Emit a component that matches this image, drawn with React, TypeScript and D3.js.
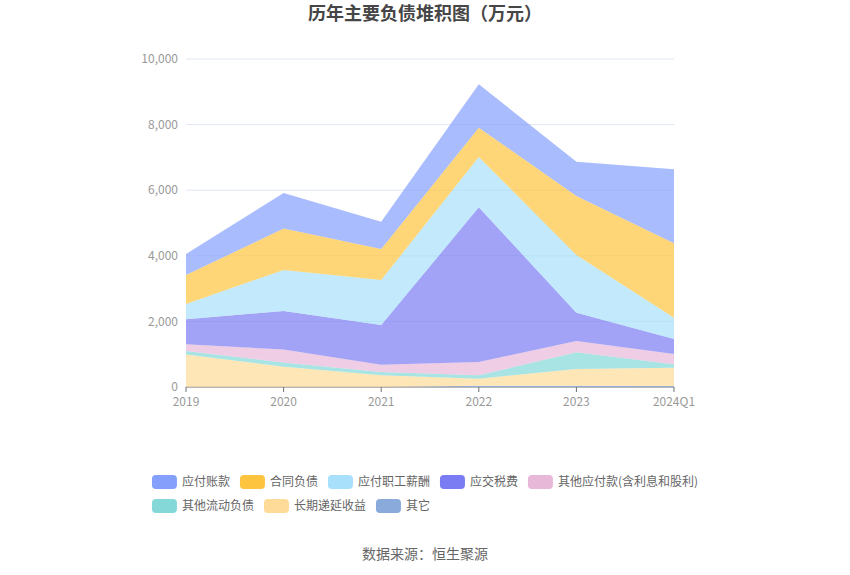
import React, { useMemo } from 'react';
import * as d3 from 'd3';

// 数据 (万元)
const years = ['2019', '2020', '2021', '2022', '2023', '2024Q1'];

const yingFuZhangKuan = [640, 1085, 833, 1322, 1047, 2256];
const heTongFuZhai = [885, 1263, 945, 891, 1799, 2266];
const zhiGongXinChou = [467, 1247, 1372, 1537, 1758, 651];
const yingJiaoShuiFei = [763, 1180, 1210, 4718, 864, 457];
const qiTaYingFu = [200, 395, 223, 400, 345, 314];
const qiTaLiuDong = [110, 130, 102, 106, 508, 102];
const diYanShouYi = [990, 615, 355, 214, 514, 560];
const qiTa = [0, 0, 0, 40, 35, 30];

// legend order
const seriesNames = ['应付账款', '合同负债', '应付职工薪酬', '应交税费', '其他应付款(含利息和股利)', '其他流动负债', '长期递延收益', '其它'];
const seriesValues = [yingFuZhangKuan, heTongFuZhai, zhiGongXinChou, yingJiaoShuiFei, qiTaYingFu, qiTaLiuDong, diYanShouYi, qiTa];
const seriesColors = ['#84a0fc', '#fdc43f', '#a8e0fb', '#7a7cf3', '#e8b8d8', '#85d8d8', '#ffdb99', '#8aaadb'];

const yTicks = [0, 2000, 4000, 6000, 8000, 10000];

const FONT = '"Noto Sans CJK SC", "Noto Sans", sans-serif';

const width = 850;
const height = 575;
const margin = { left: 186, right: 176, top: 59, bottom: 188 };

const App = () => {
  const x = d3.scalePoint<string>().domain(years).range([margin.left, width - margin.right]);
  const y = d3.scaleLinear().domain([0, 10000]).range([height - margin.bottom, margin.top]);

  const rows = years.map((yr, i) => {
    const r: Record<string, any> = { year: yr };
    seriesNames.forEach((n, k) => { r[n] = seriesValues[k][i]; });
    return r;
  });

  // bottom of the stack is the last legend entry
  const stackKeys = [...seriesNames].reverse();
  const stacked = d3.stack<any>().keys(stackKeys)(rows);

  const area = d3.area<any>()
    .x(d => x(d.data.year) as number)
    .y0(d => y(d[0]))
    .y1(d => y(d[1]));

  // legend layout, wraps at the right edge
  const legendItems = useMemo(() => {
    const ctx = document.createElement('canvas').getContext('2d')!;
    ctx.font = `12px ${FONT}`;
    const sw = 25, gap = 5, itemGap = 10;
    const items = seriesNames.map((n, i) => ({ name: n, color: seriesColors[i], w: sw + gap + ctx.measureText(n).width }));
    const maxRow = 560;
    const out: any[] = [];
    let row = 0, cx = 0;
    items.forEach(it => {
      if (cx > 0 && cx + it.w > maxRow) { row += 1; cx = 0; }
      out.push({ ...it, x: cx, row });
      cx += it.w + itemGap;
    });
    const totalW = d3.max(d3.groups(out, d => d.row).map(([, g]) => {
      const last = g[g.length - 1];
      return last.x + last.w;
    })) as number;
    const left = (width - totalW) / 2;
    return out.map(o => ({ ...o, x: o.x + left }));
  }, []);

  const baseY = y(0);

  return (
    <div style={{ position: 'absolute', left: 0, top: 0 }}>
      <svg width={width} height={height} style={{ display: 'block', fontFamily: FONT }}>
        <rect width={width} height={height} fill="#fff" />
        <text x={width / 2} y={20} textAnchor="middle" fontSize={18} fontWeight="bold" fill="#464646">
          历年主要负债堆积图（万元）
        </text>

        {/* grid + y labels */}
        {yTicks.map(t => (
          <g key={t}>
            {t > 0 && <line x1={margin.left} x2={width - margin.right} y1={y(t)} y2={y(t)} stroke="#e0e6f1" />}
            <text x={margin.left - 8} y={y(t)} dy="0.35em" textAnchor="end" fontSize={12} fill="#999">
              {d3.format(',')(t)}
            </text>
          </g>
        ))}

        {/* x axis */}
        <line x1={margin.left} x2={width - margin.right} y1={baseY} y2={baseY} stroke="#6e7079" />
        {years.map(yr => (
          <g key={yr}>
            <line x1={x(yr)} x2={x(yr)} y1={baseY} y2={baseY + 5} stroke="#6e7079" />
            <text x={x(yr)} y={baseY + 15} dy="0.35em" textAnchor="middle" fontSize={12} fill="#999">{yr}</text>
          </g>
        ))}

        {/* stacked areas */}
        {stacked.map(s => (
          <path key={s.key} d={area(s) as string} fill={seriesColors[seriesNames.indexOf(s.key)]} fillOpacity={0.7} />
        ))}

        {/* legend */}
        {legendItems.map(it => {
          const cy = 482 + it.row * 24;
          return (
            <g key={it.name}>
              <rect x={it.x} y={cy - 7} width={25} height={14} rx={4} fill={it.color} />
              <text x={it.x + 30} y={cy} dy="0.35em" fontSize={12} fill="#666">{it.name}</text>
            </g>
          );
        })}

        <text x={width / 2} y={554} dy="0.35em" textAnchor="middle" fontSize={14} fill="#666">
          数据来源：恒生聚源
        </text>
      </svg>
    </div>
  );
};

export default App;
